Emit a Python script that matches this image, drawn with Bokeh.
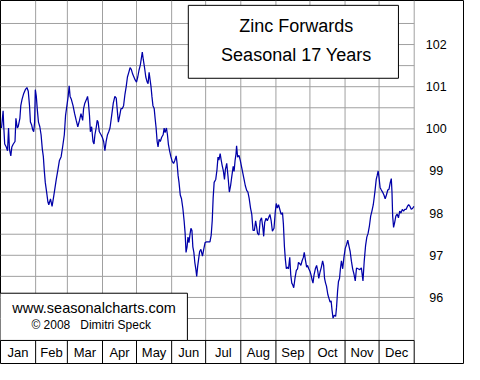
import numpy as np
from bokeh.plotting import figure
from bokeh.models import Range1d
from bokeh.core.properties import value
from bokeh.embed import file_html
from bokeh.resources import INLINE

# ---------------- data ----------------
months = ["Jan", "Feb", "Mar", "Apr", "May", "Jun",
          "Jul", "Aug", "Sep", "Oct", "Nov", "Dec"]
month_days = [31, 28, 31, 30, 31, 30, 31, 31, 30, 31, 30, 31]
y_ticks = [96, 97, 98, 99, 100, 101, 102]
title_lines = ["Zinc Forwards", "Seasonal 17 Years"]
credit_lines = ["www.seasonalcharts.com", "\u00a9 2008 \u00a0 Dimitri Speck"]

day = [
    0.9, 2.3, 2.8, 3.7, 5.1, 6.2, 7.1, 7.9, 9.1, 10.0, 11.3, 12.8, 13.6, 14.8, 15.6, 17.1,
    17.9, 19.0, 20.5, 21.9, 23.3, 24.5, 25.6, 26.4, 27.5, 28.4, 29.3, 30.1, 30.7, 31.6, 32.4,
    33.5, 34.7, 35.8, 36.9, 37.8, 38.6, 39.5, 40.7, 41.8, 42.6, 44.1, 45.5, 46.9, 48.4, 49.2,
    50.6, 52.0, 53.5, 54.8, 56.3, 57.4, 58.6, 59.7, 60.6, 61.4, 62.5, 64.0, 65.4, 66.8, 68.2,
    69.7, 71.0, 72.5, 73.3, 74.4, 75.9, 76.8, 77.6, 78.5, 79.3, 80.4, 81.6, 82.5, 83.3, 84.4,
    85.3, 86.1, 87.2, 88.7, 89.8, 91.0, 92.1, 93.2, 94.4, 95.5, 96.6, 98.1, 99.5, 100.9, 102.1,
    102.9, 104.0, 105.2, 106.3, 107.5, 108.6, 109.8, 110.9, 112.0, 113.2, 114.3, 115.4, 116.6,
    117.7, 118.8, 120.0, 121.1, 122.2, 123.4, 124.3, 125.1, 126.0, 127.1, 128.2, 129.4, 130.2,
    131.1, 131.9, 132.8, 133.6, 134.5, 135.6, 136.4, 137.3, 138.2, 139.0, 139.9, 141.0, 142.2,
    143.5, 144.4, 145.2, 146.4, 147.3, 148.1, 149.2, 150.3, 151.5, 152.7, 153.8, 155.0, 155.8,
    156.7, 157.5, 158.6, 159.7, 160.9, 162.0, 162.9, 163.7, 164.6, 165.4, 166.3, 167.1, 168.0,
    168.9, 169.7, 170.6, 171.4, 172.3, 173.1, 174.0, 174.8, 175.7, 176.8, 178.2, 179.3, 180.5,
    181.9, 183.4, 184.8, 185.9, 186.8, 187.6, 188.5, 189.9, 191.0, 191.9, 192.7, 193.8, 194.7,
    195.5, 196.7, 197.6, 198.4, 199.6, 200.7, 201.9, 203.0, 204.1, 205.3, 206.1, 207.0, 207.8,
    208.3, 209.2, 210.4, 211.5, 212.6, 213.8, 214.9, 216.0, 217.2, 218.3, 219.4, 220.6, 221.7,
    222.8, 224.0, 225.1, 226.0, 226.8, 228.0, 229.1, 230.3, 231.4, 232.2, 233.1, 234.3, 235.4,
    236.5, 237.7, 238.8, 239.9, 241.3, 242.5, 243.3, 244.2, 245.3, 246.5, 247.6, 248.8, 249.6,
    250.5, 251.3, 252.2, 253.0, 254.1, 255.2, 256.1, 257.0, 257.8, 258.7, 259.8, 261.0, 262.1,
    262.9, 264.1, 265.0, 266.1, 267.2, 268.0, 268.9, 270.1, 270.9, 272.0, 273.2, 274.0, 274.9,
    275.7, 276.6, 277.8, 278.9, 280.0, 280.8, 282.0, 283.1, 284.2, 285.1, 285.9, 286.8, 287.6,
    288.8, 290.0, 290.8, 291.7, 292.5, 293.4, 294.5, 295.7, 296.5, 297.4, 298.2, 299.1, 299.9,
    300.8, 301.9, 303.0, 304.2, 305.3, 306.4, 307.6, 308.5, 309.6, 310.7, 311.9, 313.0, 314.1,
    315.5, 317.0, 318.4, 319.8, 320.9, 322.1, 323.2, 324.3, 325.5, 326.6, 327.7, 328.9, 329.8,
    330.6, 331.5, 332.3, 333.2, 334.0, 334.9, 336.0, 337.1, 338.3, 339.4, 340.5, 341.7, 342.8,
    343.9, 344.8, 345.4, 346.0, 346.8, 347.7, 348.8, 349.9, 351.1, 352.2, 353.3, 354.5, 355.6,
    356.7, 357.9, 359.0, 360.1, 361.3, 362.4, 363.5, 364.7,
]
price = [
    100.02, 100.43, 100.09, 99.64, 99.57, 99.48, 100.02, 99.52, 99.36, 99.57, 99.64, 99.70,
    100.25, 100.02, 100.05, 100.25, 100.55, 100.70, 100.84, 100.93, 100.98, 100.89, 100.55,
    100.16, 100.09, 99.98, 99.93, 100.16, 100.93, 100.77, 100.48, 100.16, 100.05, 99.86, 99.52,
    99.34, 99.02, 98.73, 98.50, 98.27, 98.20, 98.34, 98.16, 98.39, 98.66, 98.80, 99.02, 99.25,
    99.34, 99.57, 99.86, 100.32, 100.55, 100.77, 101.02, 100.77, 100.70, 100.55, 100.36, 100.20,
    100.05, 100.20, 100.36, 100.20, 100.48, 100.61, 100.70, 100.77, 100.61, 100.32, 99.93,
    100.05, 99.70, 99.64, 99.86, 100.02, 100.20, 100.16, 99.93, 99.86, 99.80, 99.70, 99.48,
    99.70, 99.86, 99.93, 100.02, 100.32, 100.61, 100.77, 100.73, 100.48, 100.16, 100.32, 100.48,
    100.48, 100.55, 100.82, 101.00, 101.23, 101.34, 101.45, 101.41, 101.30, 101.23, 101.16,
    101.11, 101.23, 101.39, 101.52, 101.68, 101.82, 101.64, 101.45, 101.23, 101.11, 101.07,
    101.34, 101.18, 101.00, 100.77, 100.55, 100.48, 100.25, 100.02, 99.70, 99.57, 99.75, 99.70,
    99.80, 99.86, 100.02, 99.91, 100.02, 99.86, 99.64, 99.48, 99.34, 99.23, 99.18, 99.25, 99.36,
    99.18, 98.89, 98.73, 98.43, 98.34, 98.11, 97.82, 97.52, 97.07, 97.20, 97.43, 97.30, 97.48,
    97.64, 97.59, 97.20, 97.07, 96.84, 96.68, 96.50, 96.75, 96.91, 97.09, 97.14, 96.98, 97.14,
    97.30, 97.32, 97.32, 97.32, 97.48, 97.82, 98.35, 98.73, 98.80, 99.03, 99.33, 99.26, 99.41,
    99.26, 99.14, 98.99, 98.80, 99.03, 99.18, 98.88, 98.50, 98.65, 98.88, 99.11, 98.99, 99.26,
    99.41, 99.60, 99.33, 99.37, 99.26, 99.11, 98.95, 98.80, 98.65, 98.54, 98.50, 98.35, 98.12,
    97.97, 97.59, 97.59, 97.82, 97.67, 97.52, 97.48, 97.82, 97.89, 97.67, 97.45, 97.78, 97.88,
    97.82, 97.89, 97.97, 97.82, 97.57, 97.64, 98.05, 98.23, 98.12, 98.20, 98.08, 97.97, 98.01,
    97.74, 97.21, 96.91, 96.68, 96.72, 96.68, 96.95, 96.53, 96.34, 96.30, 96.23, 96.45, 96.64,
    96.68, 96.83, 96.80, 96.76, 96.87, 96.95, 97.07, 96.91, 96.72, 96.76, 96.68, 96.61, 96.53,
    96.42, 96.34, 96.53, 96.68, 96.76, 96.61, 96.45, 96.61, 96.72, 96.87, 96.76, 96.45, 96.34,
    96.27, 96.07, 95.96, 95.89, 95.92, 95.70, 95.51, 95.58, 95.55, 95.77, 96.15, 96.38, 96.45,
    96.68, 96.87, 96.68, 96.95, 97.17, 97.25, 97.36, 97.20, 97.09, 96.86, 96.68, 96.55, 96.39,
    96.70, 96.68, 96.66, 96.70, 96.39, 96.86, 97.23, 97.43, 97.52, 97.70, 97.93, 98.05, 98.20,
    98.39, 98.57, 98.80, 98.89, 99.00, 98.84, 98.61, 98.55, 98.50, 98.43, 98.34, 98.43, 98.55,
    98.57, 98.73, 98.82, 98.50, 97.93, 97.66, 97.77, 97.93, 97.98, 97.89, 98.05, 98.00, 98.09,
    98.05, 98.09, 98.09, 98.16, 98.20, 98.16, 98.09, 98.11, 98.16,
]

# ---------------- layout ----------------
W, H = 464, 364
Y_TOP = 103.045
PX_PER_UNIT = 42.15
Y_BOT = Y_TOP - H / PX_PER_UNIT
PLOT_BOTTOM = 94.98
YEAR_END = 365
X_END = YEAR_END * W / 413.7

edges = np.cumsum([0] + month_days)
centers = (edges[:-1] + edges[1:]) / 2.0

p = figure(width=W, height=H, output_backend="svg", toolbar_location=None,
           x_range=Range1d(0, X_END), y_range=Range1d(Y_BOT, Y_TOP),
           x_axis_type=None, y_axis_type=None, min_border=0)
p.grid.visible = False
p.outline_line_color = "black"
p.outline_line_width = 1
p.background_fill_color = "white"
p.border_fill_color = "white"

GRID = "#a0a0a0"
grid_y = np.arange(95.5, 103.0, 0.5)
p.segment(x0=0, x1=YEAR_END, y0=grid_y, y1=grid_y, line_color=GRID, line_width=1)
p.segment(x0=edges[1:], x1=edges[1:], y0=PLOT_BOTTOM, y1=Y_TOP, line_color=GRID, line_width=1)

# data line
p.line(day, price, line_color="#0000a8", line_width=1.25)

# month row
p.segment(x0=[0], x1=[YEAR_END], y0=[PLOT_BOTTOM], y1=[PLOT_BOTTOM], line_color="black", line_width=1)
p.segment(x0=edges[1:], x1=edges[1:], y0=Y_BOT, y1=PLOT_BOTTOM, line_color="black", line_width=1)
p.text(x=centers, y=[94.70] * 12, text=months, text_align="center", text_baseline="middle",
       text_font=value("Liberation Sans"), text_font_size="13px", text_color="black")

# right value labels
p.text(x=[384.5] * len(y_ticks), y=y_ticks, text=[str(t) for t in y_ticks],
       text_align="center", text_baseline="middle",
       text_font=value("Liberation Sans"), text_font_size="12.5px", text_color="black")

# title box
p.quad(left=[165.7], right=[351.1], top=[102.93], bottom=[101.2],
       fill_color="white", line_color="black", line_width=1)
p.text(x=[261.0, 261.0], y=[102.43, 101.75], text=title_lines,
       text_align="center", text_baseline="middle",
       text_font=value("Liberation Sans"), text_font_size="18px", text_color="black")

# credit box
p.quad(left=[-2], right=[164.9], top=[96.1], bottom=[PLOT_BOTTOM],
       fill_color="white", line_color="black", line_width=1)
p.text(x=[82.5, 80.0], y=[95.75, 95.34], text=credit_lines,
       text_align="center", text_baseline="middle",
       text_font=value("Liberation Sans"), text_font_size=["14.5px", "12px"],
       text_color="black")

open("out.html", "w").write(file_html(p, INLINE))
